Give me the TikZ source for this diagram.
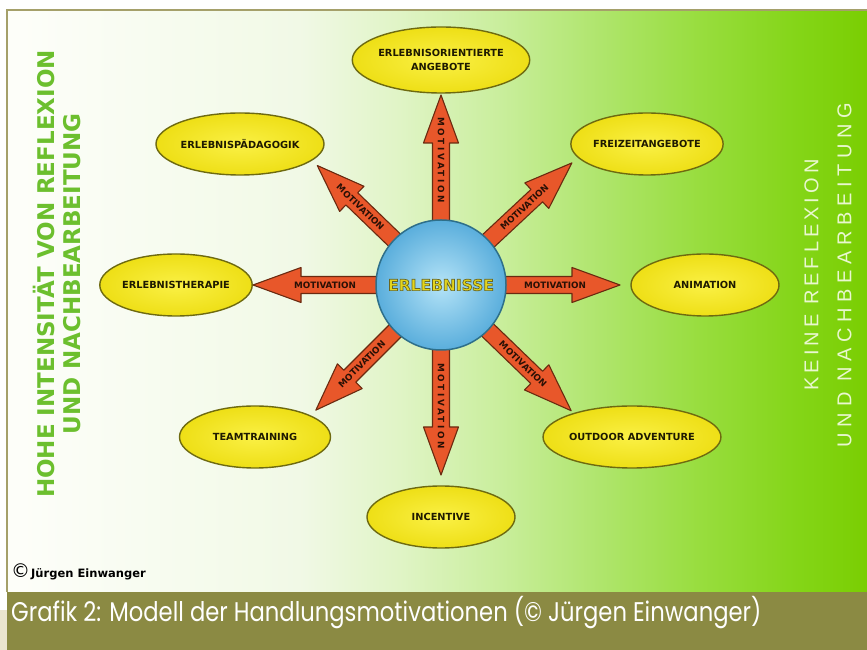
\documentclass[tikz,border=0pt]{standalone}
\usepackage{fontspec}
\setmainfont{Liberation Sans}
\newfontfamily\dejavu{DejaVu Sans}
\newfontfamily\dejavuspaced{DejaVu Sans}[LetterSpace=30]
\newfontfamily\capfont{Poppins}[FakeStretch=0.84]
\newfontfamily\spacedfont{Liberation Sans}[LetterSpace=20]
\newfontfamily\spacedfontb{Liberation Sans}[LetterSpace=28]
\usetikzlibrary{shapes.geometric}
\definecolor{bgA}{HTML}{FDFEF9}
\definecolor{bgB}{HTML}{F1F9E6}
\definecolor{bgC}{HTML}{E0F4C6}
\definecolor{bgD}{HTML}{C9EE9C}
\definecolor{bgE}{HTML}{AFE56C}
\definecolor{bgF}{HTML}{98DD3E}
\definecolor{bgG}{HTML}{84D517}
\definecolor{bgH}{HTML}{7ACE02}
\definecolor{band}{HTML}{8B8A43}
\definecolor{frame}{HTML}{A5A06A}
\definecolor{beige}{HTML}{EAE5CF}
\definecolor{leftgreen}{HTML}{6CBF2E}
\definecolor{rightwhite}{HTML}{E9F7CF}
\definecolor{arrowfill}{HTML}{E8572A}
\definecolor{arrowedge}{HTML}{6A2A10}
\definecolor{motink}{HTML}{2A1005}
\definecolor{ellin}{HTML}{FAF045}
\definecolor{ellout}{HTML}{EEDF16}
\definecolor{elledge}{HTML}{6E6A10}
\definecolor{ellink}{HTML}{1E1A00}
\definecolor{ballin}{HTML}{B4E3F7}
\definecolor{ballout}{HTML}{5AAEDC}
\definecolor{balledge}{HTML}{2E6F8A}
\definecolor{centyellow}{HTML}{E2D51C}
\pgfdeclarehorizontalshading{bgshade}{100bp}{color(0bp)=(bgA); color(25.75bp)=(bgA); color(42bp)=(bgB); color(47.8bp)=(bgC); color(53.7bp)=(bgD); color(59.5bp)=(bgE); color(65.3bp)=(bgF); color(71bp)=(bgG); color(75bp)=(bgH); color(100bp)=(bgH)}
\tikzset{
  arrowbody/.style={fill=arrowfill, draw=arrowedge, line width=1.1pt, line join=round},
  mottext/.style={font=\dejavu\bfseries\fontsize{8.8}{8.8}\selectfont, text=motink, inner sep=0pt},
  mottextv/.style={font=\dejavuspaced\bfseries\fontsize{8.8}{8.8}\selectfont, text=motink, inner sep=0pt},
  ellbox/.style={ellipse, draw=elledge, line width=1.4pt, inner color=ellin, outer color=ellout,
    minimum width=148pt, minimum height=62pt, inner sep=0pt, align=center, text=ellink,
    font=\dejavu\bfseries\fontsize{9.8}{14.5}\selectfont},
  centtext/.style={font=\dejavu\bfseries\fontsize{15.5}{15.5}\selectfont, inner sep=0pt},
  swoosh/.style={draw=beige, line width=5pt}
}
\newcommand\motarrow[6]{%
  \begin{scope}[shift={(c)},rotate=#2]
    \draw[arrowbody] (50,-8.5) -- ({#3-48},-8.5) -- ({#3-48},-17.5) -- (#3,0) -- ({#3-48},17.5) -- ({#3-48},8.5) -- (50,8.5) -- cycle;
    \node[#6, rotate=#4] (#1) at (#5,0) {MOTIVATION};
  \end{scope}}
\newcommand\outlinedtext[1]{\special{pdf:literal direct 2 Tr 0.7 w 0.42 0.40 0.12 RG}#1\special{pdf:literal direct 0 Tr}}
\begin{document}
\begin{tikzpicture}[x=1pt,y=1pt]
\useasboundingbox (0,0) rectangle (867,650);
\fill[white] (0,0) rectangle (867,650);
% faint beige swooshes in the left margin
\begin{scope}
  \clip (0,0) rectangle (7,650);
  \draw[swoosh] (-30,430) arc[start angle=20, end angle=-40, radius=90];
  \draw[swoosh] (-30,290) arc[start angle=20, end angle=-40, radius=90];
  \draw[swoosh] (-30,150) arc[start angle=20, end angle=-40, radius=90];
\end{scope}
\begin{scope}
  \clip (0,0) rectangle (7,58);
  \fill[beige] (-10,0) rectangle (7,40);
\end{scope}
\shade[shading=bgshade] (7,58) rectangle (867,640);
\fill[band] (7,0) rectangle (867,58);
\draw[frame, line width=1.2pt] (7,58) -- (7,640) -- (867,640);

\coordinate (c) at (441,365);
% arrows
\motarrow{mup}{90}{190}{-90}{125}{mottextv}
\motarrow{mdown}{-90}{190}{-90}{121}{mottextv}
\motarrow{mleft}{180}{188}{0}{116}{mottext}
\motarrow{mright}{0}{179}{0}{114}{mottext}
\motarrow{mnw}{136}{172}{-44}{112}{mottext}
\motarrow{mne}{43}{179}{43}{114}{mottext}
\motarrow{msw}{-135}{177}{45}{112}{mottext}
\motarrow{mse}{-44}{181}{-44}{114}{mottext}

% centre ball
\node[circle, minimum size=130pt, inner sep=0pt, draw=balledge, line width=1.5pt,
      inner color=ballin, outer color=ballout] (ball) at (c) {};
\node[centtext, text=centyellow] (erlebnisse) at (c) {\outlinedtext{ERLEBNISSE}};

% ellipses
\node[ellbox, minimum height=66pt] (top) at (441,590) {ERLEBNISORIENTIERTE\\ANGEBOTE};
\node[ellbox, minimum width=150pt] (tl) at (240,506) {ERLEBNISPÄDAGOGIK};
\node[ellbox, minimum width=150pt] (tr) at (647,506) {FREIZEITANGEBOTE};
\node[ellbox] (l) at (176,365) {ERLEBNISTHERAPIE};
\node[ellbox] (r) at (705,365) {ANIMATION};
\node[ellbox, minimum width=151pt] (bl) at (255,213) {TEAMTRAINING};
\node[ellbox, minimum width=151pt] (br) at (632,213) {OUTDOOR ADVENTURE};
\node[ellbox] (b) at (441,133) {INCENTIVE};

% side texts
\node[rotate=90, align=center, text=leftgreen, inner sep=0pt,
      font=\dejavu\bfseries\fontsize{23}{26}\selectfont] (lefttxt) at (57,376)
      {HOHE INTENSITÄT VON REFLEXION\\UND NACHBEARBEITUNG};
\node[rotate=90, align=center, text=rightwhite, inner sep=0pt,
      font=\spacedfont\fontsize{20}{33}\selectfont] (righttxt) at (828,375)
      {KEINE REFLEXION\\{\spacedfontb UND NACHBEARBEITUNG}};

% copyright
\node[anchor=west, inner sep=0pt, text=black] (copy) at (11,78)
  {{\dejavu\fontsize{19}{19}\selectfont\textcopyright}\hspace{1pt}{\dejavu\bfseries\fontsize{11.5}{11.5}\selectfont Jürgen Einwanger}};

% caption
\node[anchor=base west, inner sep=0pt, text=white, font=\capfont\fontsize{27}{27}\selectfont] (caption) at (11,28)
  {Grafik 2: Modell der Handlungsmotivationen (© Jürgen Einwanger)};
\end{tikzpicture}
\end{document}
